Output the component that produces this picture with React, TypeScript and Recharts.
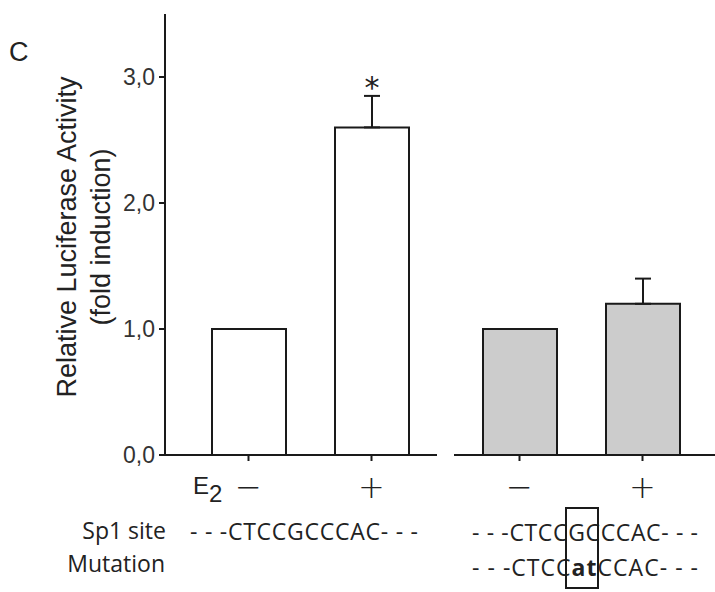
import { Bar, BarChart, ErrorBar, LabelList, XAxis, YAxis } from "recharts";

// E2 treatment (− / +) for the wild-type Sp1 site and the mutated site
const doseLabels = ["−", "+"];
const wildMean = [1.0, 2.6];
const wildErr = [0, 0.25];
const wildSig = ["", "*"];
const mutMean = [1.0, 1.2];
const mutErr = [0, 0.2];
const mutSig = ["", ""];

const yTicks = [0, 1, 2, 3];
const yMax = 3.5;

const wildSeq = "- - -CTCCGCCCAC- - -";
const mutSeqParts = ["- - -CTCC", "at", "CCAC- - -"];

const buildRows = (mean: number[], err: number[], sig: string[]) =>
  doseLabels.map((label, i) => ({
    label,
    mean: mean[i],
    err: err[i],
    range: [0, err[i]],
    sig: sig[i],
  }));

const wildRows = buildRows(wildMean, wildErr, wildSig);
const mutRows = buildRows(mutMean, mutErr, mutSig);

const INK = "#1a1a1a";
const SANS = "'Liberation Sans', Arial, sans-serif";
const SEQ_FONT = "'Open Sans', sans-serif";

function DoseTick({ x, y, payload }: any) {
  return (
    <text
      x={x}
      y={y + 35}
      textAnchor="middle"
      fontSize={32}
      fontFamily="'DejaVu Sans', sans-serif"
      fontWeight={200}
      fill="#222"
    >
      {payload.value}
    </text>
  );
}

// value = err / mean, so the bar height gives the pixel scale for the star
function StarLabel(props: any) {
  const vb = props.viewBox ?? props;
  const { x, y, width, height } = vb;
  const ratio = props.value;
  if (!ratio) return null;
  const errTop = y - ratio * Math.abs(height);
  return (
    <text
      x={x + width / 2}
      y={errTop + 2}
      textAnchor="middle"
      fontSize={30}
      fontFamily="'DejaVu Sans', sans-serif"
      fill="#222"
    >
      *
    </text>
  );
}

function Panel({
  rows,
  fill,
  width,
  margin,
  padding,
  showY,
}: {
  rows: typeof wildRows;
  fill: string;
  width: number;
  margin: { top: number; right: number; bottom: number; left: number };
  padding: { left: number; right: number };
  showY: boolean;
}) {
  return (
    <BarChart width={width} height={592} data={rows} margin={margin}>
      <XAxis
        dataKey="label"
        height={60}
        padding={padding}
        axisLine={{ stroke: INK, strokeWidth: 2 }}
        tickLine={{ stroke: INK, strokeWidth: 2 }}
        tickSize={6}
        tick={<DoseTick />}
        interval={0}
      />
      <YAxis
        hide={!showY}
        width={165}
        domain={[0, yMax]}
        ticks={yTicks}
        allowDataOverflow
        tickFormatter={(v: number) => v.toFixed(1).replace(".", ",")}
        axisLine={{ stroke: INK, strokeWidth: 2 }}
        tickLine={{ stroke: INK, strokeWidth: 2 }}
        tickSize={6}
        tickMargin={4}
        tick={{ fill: "#333", fontSize: 23, fontFamily: SANS }}
      />
      <Bar
        dataKey="mean"
        barSize={74}
        fill={fill}
        stroke={INK}
        strokeWidth={2}
        isAnimationActive={false}
      >
        <ErrorBar
          dataKey="range"
          direction="y"
          width={8}
          stroke={INK}
          strokeWidth={2}
          isAnimationActive={false}
        />
        <LabelList
          dataKey={(d: any) => (d.sig ? d.err / d.mean : null)}
          content={<StarLabel />}
        />
      </Bar>
    </BarChart>
  );
}

export default function App() {
  return (
    <div
      style={{
        position: "absolute",
        left: 0,
        top: 0,
        width: 715,
        height: 592,
        background: "#fff",
        overflow: "hidden",
      }}
    >
      <div style={{ position: "absolute", left: 0, top: 0 }}>
        <Panel
          rows={wildRows}
          fill="#ffffff"
          width={440}
          margin={{ top: 14, right: 3, bottom: 77, left: 0 }}
          padding={{ left: 22, right: 4 }}
          showY
        />
      </div>
      <div style={{ position: "absolute", left: 440, top: 0 }}>
        <Panel
          rows={mutRows}
          fill="#cccccc"
          width={275}
          margin={{ top: 14, right: 0, bottom: 77, left: 14 }}
          padding={{ left: 4, right: 11 }}
          showY={false}
        />
      </div>
      <svg
        width={715}
        height={592}
        style={{ position: "absolute", left: 0, top: 0, pointerEvents: "none" }}
      >
        <text x={9} y={61} fontSize={27} fontFamily={SANS} fill="#222">
          C
        </text>
        <g fontFamily={SANS} fontSize={27} fill="#222" textAnchor="middle">
          <text x={76} y={237} transform="rotate(-90 76 237)">
            Relative Luciferase Activity
          </text>
          <text x={110} y={237} transform="rotate(-90 110 237)">
            (fold induction)
          </text>
        </g>
        <text x={193} y={494} fontSize={24} fontFamily={SANS} fill="#222">
          E
          <tspan dy={8}>2</tspan>
        </text>
        <g fontFamily={SEQ_FONT} fontSize={23} fill="#222">
          <text x={166} y={539} textAnchor="end">
            Sp1 site
          </text>
          <text x={165} y={572} textAnchor="end">
            Mutation
          </text>
          <text x={190} y={540} textLength={228} lengthAdjust="spacing">
            {wildSeq}
          </text>
          <text x={472} y={541} textLength={226} lengthAdjust="spacing">
            {wildSeq}
          </text>
          <text x={472} y={576} textLength={226} lengthAdjust="spacing">
            {mutSeqParts[0]}
            <tspan fontWeight={700}>{mutSeqParts[1]}</tspan>
            {mutSeqParts[2]}
          </text>
        </g>
        <rect
          x={566}
          y={508}
          width={32}
          height={80}
          fill="none"
          stroke={INK}
          strokeWidth={2}
        />
      </svg>
    </div>
  );
}
